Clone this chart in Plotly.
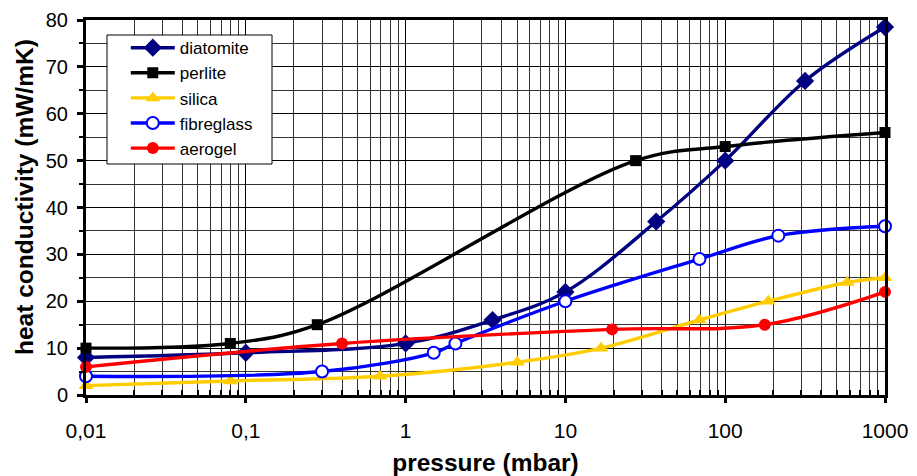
import plotly.graph_objects as go

# ---- data (pressure in mbar, conductivity in mW/mK) ----
diatomite_x = [0.01, 0.1, 1, 3.5, 10, 37, 100, 316, 1000]
diatomite_y = [8, 9, 11, 16, 22, 37, 50, 67, 78.5]

perlite_x = [0.01, 0.08, 0.28, 27.5, 100, 1000]
perlite_y = [10, 11, 15, 50, 53, 56]

silica_x = [0.01, 0.08, 0.69, 5, 16.7, 69, 186, 580, 1000]
silica_y = [2, 3, 4, 7, 10, 16, 20, 24, 25]

fibreglass_x = [0.01, 0.3, 1.5, 2.05, 10, 69, 215, 1000]
fibreglass_y = [4, 5, 9, 11, 20, 29, 34, 36]

aerogel_x = [0.01, 0.4, 19.6, 177, 1000]
aerogel_y = [6, 11, 14, 15, 22]

x_tickvals = [0.01, 0.1, 1, 10, 100, 1000]
x_ticktext = ["0,01", "0,1", "1", "10", "100", "1000"]
x_minorvals = [k * 10 ** e for e in range(-2, 3) for k in range(2, 10)]

FONT = "Liberation Sans, Arial, sans-serif"

series = [
    ("diatomite", diatomite_x, diatomite_y, "#000080", dict(symbol="diamond", size=14, color="#000080")),
    ("perlite", perlite_x, perlite_y, "#000000", dict(symbol="square", size=11, color="#000000")),
    ("silica", silica_x, silica_y, "#FFCC00", dict(symbol="triangle-up", size=13, color="#FFCC00")),
    ("fibreglass", fibreglass_x, fibreglass_y, "#0000FF",
     dict(symbol="circle", size=12, color="#FFFFFF", line=dict(color="#0000FF", width=2))),
    ("aerogel", aerogel_x, aerogel_y, "#FF0000", dict(symbol="circle", size=12, color="#FF0000")),
]

fig = go.Figure()
for name, xs, ys, col, mk in series:
    fig.add_trace(go.Scatter(
        x=xs, y=ys, name=name, mode="lines+markers",
        line=dict(color=col, width=3.4, shape="spline", smoothing=1.0),
        marker=mk, cliponaxis=False, legendgroup=name,
    ))

# legend frame
fig.add_shape(type="rect", xref="paper", yref="paper",
              x0=0.0263, x1=0.2328, y0=0.616, y1=0.96,
              fillcolor="white", line=dict(color="black", width=1), layer="above")

# y-axis title
fig.add_annotation(text="<b>heat conductivity (mW/mK)</b>", textangle=-90,
                   xref="paper", yref="paper", x=-0.0776, y=0.528,
                   xanchor="center", yanchor="middle", showarrow=False,
                   font=dict(family=FONT, size=24.5, color="black"))

fig.update_layout(
    width=909, height=468,
    margin=dict(l=78, r=32, t=12, b=81),
    paper_bgcolor="white", plot_bgcolor="white",
    font=dict(family=FONT, color="black"),
    showlegend=True,
    legend=dict(
        x=0.0498, y=0.973, xanchor="left", yanchor="top",
        bgcolor="rgba(0,0,0,0)", borderwidth=0,
        font=dict(family=FONT, size=17, color="black"),
        tracegroupgap=0, itemwidth=44,
    ),
)

fig.update_xaxes(
    type="log", range=[-2, 3], automargin=False,
    tickmode="array", tickvals=x_tickvals, ticktext=x_ticktext,
    tickfont=dict(family=FONT, size=21),
    ticks="outside", ticklen=5, tickwidth=3, tickcolor="black",
    ticklabelstandoff=10,
    showline=True, linewidth=3, linecolor="black", mirror=True,
    showgrid=True, gridcolor="black", gridwidth=1,
    minor=dict(tickmode="array", tickvals=x_minorvals, ticks="inside", ticklen=5,
               tickwidth=2, tickcolor="black", showgrid=True, gridcolor="#333333", gridwidth=1),
    title=dict(text="<b>pressure (mbar)</b>", font=dict(family=FONT, size=24.5), standoff=16),
    zeroline=False,
)

fig.update_yaxes(
    range=[0, 80], dtick=10, tick0=0, automargin=False,
    tickfont=dict(family=FONT, size=20),
    ticks="outside", ticklen=6, tickwidth=3, tickcolor="black",
    ticklabelstandoff=5,
    showline=True, linewidth=3, linecolor="black", mirror=True,
    showgrid=True, gridcolor="black", gridwidth=1,
    minor=dict(dtick=5, ticks="outside", ticklen=4, tickwidth=2, tickcolor="black",
               showgrid=True, gridcolor="#333333", gridwidth=1),
    zeroline=False,
)

fig.write_html("out.html")
